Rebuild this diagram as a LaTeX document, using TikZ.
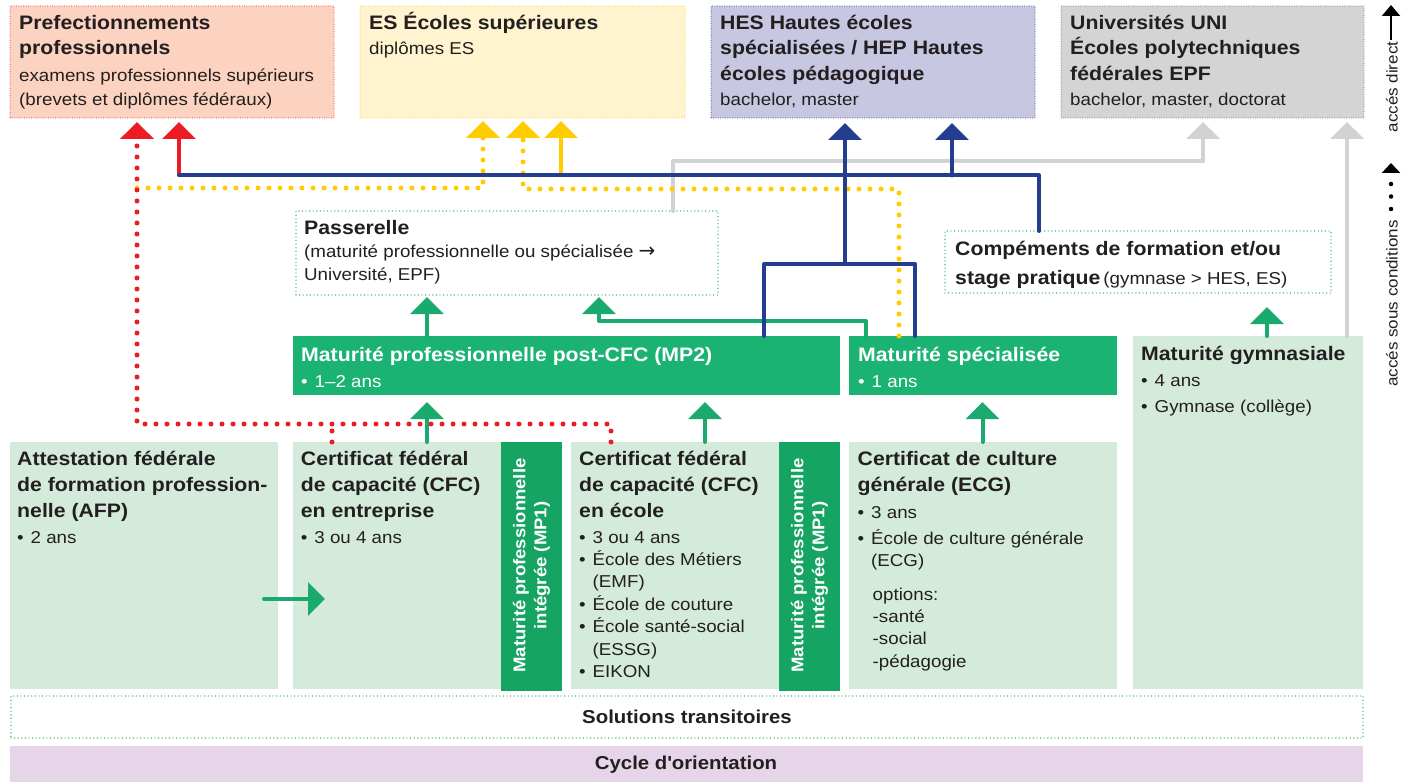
\documentclass[tikz,border=0pt]{standalone}
\usepackage{fontspec}
\setmainfont{Liberation Sans}[FakeStretch=1.09]
\newfontfamily\dvfont{DejaVu Sans}
\usetikzlibrary{arrows.meta}
\definecolor{txt}{HTML}{231F20}
\definecolor{salmon}{HTML}{FBD3C0}
\definecolor{creme}{HTML}{FFF4CF}
\definecolor{lav}{HTML}{C7C7E1}
\definecolor{lgray}{HTML}{D4D4D5}
\definecolor{dgreen}{HTML}{1BB373}
\definecolor{mgreen}{HTML}{16A462}
\definecolor{lgreen}{HTML}{D4EBDC}
\definecolor{lpurple}{HTML}{E6D5E8}
\definecolor{cred}{HTML}{ED1C24}
\definecolor{cyellow}{HTML}{FFCC00}
\definecolor{cblue}{HTML}{253D8E}
\definecolor{cgray}{HTML}{D1D2D3}
\definecolor{garrow}{HTML}{1BAA6E}
\definecolor{dgrayb}{HTML}{6D6E71}
\newcommand\Ft{\fontsize{19.5pt}{25pt}\selectfont\bfseries}
\newcommand\Fs{\fontsize{17.2pt}{22pt}\selectfont}
\newcommand\Fm{\fontsize{17pt}{21pt}\selectfont\bfseries}
\newcommand\Fl{\fontsize{15.6pt}{18pt}\selectfont}
\newcommand\Fb{\fontsize{18.7pt}{22pt}\selectfont\bfseries}
\newcommand\Lines[2]{\vtop{\baselineskip=#1pt\lineskiplimit=-100pt\lineskip=0pt\relax #2}}
\newcommand\Bu{\makebox[13.5pt][l]{•}}
\newcommand\Ind{\hspace*{13.5pt}}
\begin{document}
\begin{tikzpicture}[x=1pt,y=-1pt,
  boxs/.style={anchor=north west, inner sep=0pt, outer sep=0pt},
  fdot/.style={line width=1pt, dash pattern=on 0pt off 2.4pt, line cap=round},
  gdotb/.style={draw=garrow, line width=1.4pt, dash pattern=on 0pt off 3.6pt, line cap=round},
  tx/.style={anchor=base west, inner sep=0pt, text=txt},
  wx/.style={anchor=base west, inner sep=0pt, text=white},
  arr/.style={-{Triangle[width=33pt,length=17pt]}},
  redsolid/.style={draw=cred, line width=4pt},
  reddot/.style={draw=cred, line width=5pt, line cap=round, dash pattern=on 0pt off 11pt},
  yellowsolid/.style={draw=cyellow, line width=4pt},
  yellowdot/.style={draw=cyellow, line width=5pt, line cap=round, dash pattern=on 0pt off 11pt},
  blueline/.style={draw=cblue, line width=4pt, line join=round, line cap=round},
  grayline/.style={draw=cgray, line width=4.5pt, line join=round, line cap=round},
  greenline/.style={draw=garrow, line width=4pt, line join=round, line cap=round}]
\fill[white] (0,0) rectangle (1404,783);
\useasboundingbox (0,0) rectangle (1404,783);
% boxes
\node[boxs, fill=salmon, draw=cred, fdot, minimum width=324pt, minimum height=112pt] (prefect) at (10,6) {};
\node[boxs, fill=creme, draw=cyellow, fdot, minimum width=325pt, minimum height=112pt] (es) at (360,6) {};
\node[boxs, fill=lav, draw=cblue, fdot, minimum width=324pt, minimum height=112pt] (hes) at (711,6) {};
\node[boxs, fill=lgray, draw=dgrayb, fdot, minimum width=303pt, minimum height=112pt] (uni) at (1061,6) {};
\node[boxs, fill=white, gdotb, minimum width=422pt, minimum height=84pt] (pass) at (296,211) {};
\node[boxs, fill=white, gdotb, minimum width=386pt, minimum height=62pt] (comp) at (945,231) {};
\node[boxs, fill=dgreen, minimum width=547pt, minimum height=59pt] (mp2) at (293,336) {};
\node[boxs, fill=dgreen, minimum width=268pt, minimum height=59pt] (mats) at (849,336) {};
\node[boxs, fill=lgreen, minimum width=230pt, minimum height=353pt] (matg) at (1133,336) {};
\node[boxs, fill=lgreen, minimum width=268pt, minimum height=247pt] (afp) at (10,442) {};
\node[boxs, fill=lgreen, minimum width=208pt, minimum height=247pt] (cfce) at (293,442) {};
\node[boxs, fill=mgreen, minimum width=61pt, minimum height=249pt] (mp1a) at (501,442) {};
\node[boxs, fill=lgreen, minimum width=208pt, minimum height=247pt] (cfcs) at (571,442) {};
\node[boxs, fill=mgreen, minimum width=61pt, minimum height=249pt] (mp1b) at (779,442) {};
\node[boxs, fill=lgreen, minimum width=268pt, minimum height=247pt] (ecg) at (849,442) {};
\node[boxs, fill=white, gdotb, minimum width=1352pt, minimum height=42pt] (sol) at (11,696) {};
\node[boxs, fill=lpurple, minimum width=1353pt, minimum height=36pt] (cycle) at (10,746) {};
% junction coordinates
\coordinate (rA) at (611,424); \coordinate (rB) at (137,424); \coordinate (rC) at (332,424);
\coordinate (bStart) at (179,175.5); \coordinate (bEnd) at (1039,175.5); \coordinate (bH) at (952,175.5);
\coordinate (yA) at (137,188); \coordinate (yB) at (483,188);
\coordinate (yC) at (899,189); \coordinate (yD) at (523,189);
\coordinate (yS) at (561,175.5);
\coordinate (gA) at (673,161); \coordinate (gB) at (1203,161);
\coordinate (grA) at (866,321); \coordinate (grB) at (599,321);
\coordinate (bL) at (764,264); \coordinate (bR) at (915,264); \coordinate (bM) at (845,264);
\coordinate (afpOut) at (264,599); \coordinate (cfceIn) at (325,599);
% gray
\draw[grayline, arr, shorten >=4pt] (673,0 |- pass.north) -- (gA) -- (gB) -- (1203,0 |- uni.south);
\draw[grayline, arr, shorten >=4pt] (1347,0 |- matg.north) -- (1347,0 |- uni.south);
% green
\draw[greenline, arr, shorten >=2pt] (427,0 |- mp2.north) -- (427,0 |- pass.south);
\draw[greenline, arr, shorten >=2pt] (866,0 |- mats.north) -- (grA) -- (grB) -- (599,0 |- pass.south);
\draw[greenline, arr, shorten >=14pt] (1267,0 |- matg.north) -- (1267,0 |- comp.south);
\draw[greenline, arr, shorten >=7pt] (427,0 |- cfce.north) -- (427,0 |- mp2.south);
\draw[greenline, arr, shorten >=7pt] (705,0 |- cfcs.north) -- (705,0 |- mp2.south);
\draw[greenline, arr, shorten >=7pt] (982.5,0 |- ecg.north) -- (982.5,0 |- mats.south);
\draw[greenline, arr] (afpOut) -- (cfceIn);
% yellow
\draw[yellowdot, arr, shorten >=3pt] (yA) -- (yB) -- (483,0 |- es.south);
\draw[yellowdot, arr, shorten >=3pt] (899,0 |- mats.north) -- (yC) -- (yD) -- (523,0 |- es.south);
\draw[yellowsolid, arr, shorten >=3pt] (yS) -- (561,0 |- es.south);
% red
\draw[reddot, arr, shorten >=4pt] (611,0 |- cfcs.north) -- (rA) -- (rB) -- (137,0 |- prefect.south);
\draw[reddot] (332,0 |- cfce.north) -- (rC);
\draw[redsolid, arr, shorten >=4pt] (bStart) -- (179,0 |- prefect.south);
% blue
\draw[blueline] (bStart) -- (bEnd) -- (1039,0 |- comp.north);
\draw[blueline, arr, shorten >=5pt] (bH) -- (952,0 |- hes.south);
\draw[blueline] (764,0 |- mp2.north) -- (bL) -- (bR) -- (915,0 |- mats.north);
\draw[blueline, arr, shorten >=5pt] (bM) -- (845,0 |- hes.south);
% legend
\coordinate (legAs) at (1391,40); \coordinate (legAe) at (1391,5);
\coordinate (legBs) at (1391,209); \coordinate (legBe) at (1391,163);
\draw[black, line width=2pt, -{Triangle[width=18pt,length=11pt]}] (legAs) -- (legAe);
\draw[black, line width=4.5pt, line cap=round, dash pattern=on 0pt off 12.5pt, -{Triangle[width=18pt,length=10pt]}] (legBs) -- (legBe);
\node[rotate=90, font=\Fl, text=txt, inner sep=0pt] (legD) at (1392,87) {accés direct};
\node[rotate=90, font=\Fl, text=txt, inner sep=0pt] (legC) at (1392,303.5) {accés sous conditions};
% texts
\node[tx] (prefectT) at (19,29.5) {\Lines{25}{\hbox{\Ft Prefectionnements}\hbox{\Ft professionnels}\kern2pt\hbox{\Fs examens professionnels supérieurs}\kern-0.7pt\hbox{\Fs (brevets et diplômes fédéraux)}}};
\node[tx] (esT) at (369,29.5) {\Lines{25}{\hbox{\Ft ES Écoles supérieures}\kern0.5pt\hbox{\Fs diplômes ES}}};
\node[tx] (hesT) at (720,29.5) {\Lines{25.3}{\hbox{\Ft HES Hautes écoles}\hbox{\Ft spécialisées / HEP Hautes}\hbox{\Ft écoles pédagogique}\kern0.5pt\hbox{\Fs bachelor, master}}};
\node[tx] (uniT) at (1070,29.5) {\Lines{25.3}{\hbox{\Ft Universités UNI}\hbox{\Ft Écoles polytechniques}\hbox{\Ft fédérales EPF}\kern0.5pt\hbox{\Fs bachelor, master, doctorat}}};
\node[tx] (passT) at (304,235) {\Lines{23}{\hbox{\Ft Passerelle}\hbox{\Fs (maturité professionnelle ou spécialisée {\dvfont\fontsize{20pt}{22pt}\selectfont →}}\hbox{\Fs Université, EPF)}}};
\node[tx] (compT) at (955,255.5) {\Lines{29.5}{\hbox{\Ft Compéments de formation et/ou}\hbox{{\Ft stage pratique}\hspace{3pt}{\Fs(gymnase > HES, ES)}}}};
\node[wx] (mp2T) at (301,361.5) {\Lines{25.8}{\hbox{\Ft Maturité professionnelle post-CFC (MP2)}\hbox{\Fs\Bu 1–2 ans}}};
\node[wx] (matsT) at (858,361) {\Lines{26.5}{\hbox{\Ft Maturité spécialisée}\hbox{\Fs\Bu 1 ans}}};
\node[tx] (matgT) at (1141,360) {\Lines{26.3}{\hbox{\Ft Maturité gymnasiale}\hbox{\Fs\Bu 4 ans}\hbox{\Fs\Bu Gymnase (collège)}}};
\node[tx] (afpT) at (17,465) {\Lines{26}{\hbox{\Ft Attestation fédérale}\hbox{\Ft de formation profession-}\hbox{\Ft nelle (AFP)}\hbox{\Fs\Bu 2 ans}}};
\node[tx] (cfceT) at (300.7,465) {\Lines{26}{\hbox{\Ft Certificat fédéral}\hbox{\Ft de capacité (CFC)}\hbox{\Ft en entreprise}\hbox{\Fs\Bu 3 ou 4 ans}}};
\node[tx] (cfcsT) at (579,465) {\Lines{26}{\hbox{\Ft Certificat fédéral}\hbox{\Ft de capacité (CFC)}\hbox{\Ft en école}\hbox{\Fs\Bu 3 ou 4 ans}\baselineskip=22.4pt\hbox{\Fs\Bu École des Métiers}\hbox{\Fs\Ind (EMF)}\hbox{\Fs\Bu École de couture}\hbox{\Fs\Bu École santé-social}\hbox{\Fs\Ind (ESSG)}\hbox{\Fs\Bu EIKON}}};
\node[tx] (ecgT) at (857.5,465) {\Lines{26}{\hbox{\Ft Certificat de culture}\hbox{\Ft générale (ECG)}\kern1.3pt\hbox{\Fs\Bu 3 ans}\baselineskip=25.7pt\hbox{\Fs\Bu École de culture générale}\baselineskip=22.7pt\hbox{\Fs\Ind (ECG)}\kern11.3pt\baselineskip=22.3pt\hbox{\Fs\hspace*{15pt}options:}\hbox{\Fs\hspace*{15pt}-santé}\hbox{\Fs\hspace*{15pt}-social}\hbox{\Fs\hspace*{15pt}-pédagogie}}};
\node[rotate=90, text=white, align=center, font=\Fm, inner sep=0pt] (mp1aT) at (531.5,565.5) {Maturité professionnelle\\intégrée (MP1)};
\node[rotate=90, text=white, align=center, font=\Fm, inner sep=0pt] (mp1bT) at (809.5,565.5) {Maturité professionnelle\\intégrée (MP1)};
\node[font=\Fb, text=txt, inner sep=0pt] (solT) at (sol.center) {Solutions transitoires};
\node[font=\Fb, text=txt, inner sep=0pt] (cycleT) at (686,765) {Cycle d\textquotesingle orientation};
\end{tikzpicture}
\end{document}
